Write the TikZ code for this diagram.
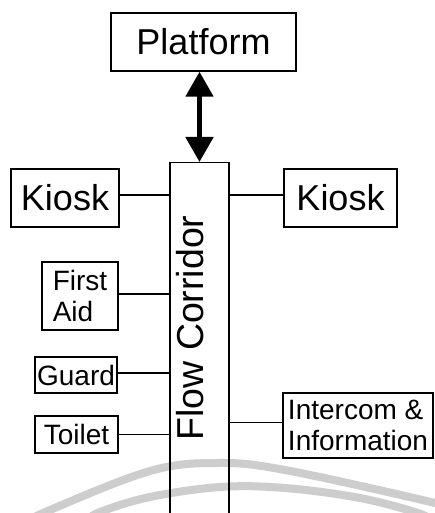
\documentclass[tikz,border=0pt]{standalone}
\usepackage{fontspec}
\setmainfont{Liberation Sans}
\usetikzlibrary{arrows.meta}
\definecolor{wm}{RGB}{205,205,205}
\begin{document}
\begin{tikzpicture}[x=1pt,y=-1pt,
  box/.style={draw=black,line width=1.4pt,inner sep=0pt,font=\fontsize{28}{31}\selectfont},
  big/.style={font=\fontsize{36}{40}\selectfont},
  link/.style={line width=1.2pt},
  mark arc/.style={draw=wm,line width=8pt}]
\fill[white] (0,0) rectangle (435,513);
\clip (0,0) rectangle (435,513);
% watermark arcs
\draw[mark arc] plot[smooth,tension=0.6] coordinates {(10,530) (50,510) (150,471) (217,463) (285,470) (435,503) (460,512)};
\draw[mark arc] plot[smooth,tension=0.6] coordinates {(85,522) (100,512) (150,497) (220,487) (285,488) (360,498) (418,513) (430,520)};
% nodes
\node[box,big,minimum width=185pt,minimum height=58pt] (plat) at (203.5,42) {Platform};
\node[draw=black,line width=1.4pt,minimum width=59pt,minimum height=380pt,anchor=north] (corr) at (199.5,162) {};
\node[font=\fontsize{37.5}{40}\selectfont,rotate=90,anchor=base] (corrlabel) at (203,328) {Flow Corridor};
\node[box,big,minimum width=108pt,minimum height=58pt] (kl) at (65,198) {Kiosk};
\node[box,big,minimum width=113pt,minimum height=58pt] (kr) at (340.5,198) {Kiosk};
\node[box,align=left,minimum width=76pt,minimum height=68pt] (aid) at (80,296) {First\\Aid};
\node[box,minimum width=82pt,minimum height=36pt] (guard) at (76,375) {Guard};
\node[box,minimum width=83pt,minimum height=37pt] (toilet) at (76.5,434.5) {Toilet};
\node[box,align=left,minimum width=150pt,minimum height=65pt] (info) at (358,425.5) {Intercom \&\\Information};
% connectors
\draw[line width=5pt,{Triangle[width=27pt,length=25pt]}-{Triangle[width=27pt,length=25pt]}] (corr.north |- plat.south) -- (corr.north);
\draw[link] ([yshift=3pt]kl.east) -- ([yshift=3pt]kl.east -| corr.west);
\draw[link] ([yshift=3pt]kr.west) -- ([yshift=3pt]kr.west -| corr.east);
\draw[link] ([yshift=2pt]aid.east) -- ([yshift=2pt]aid.east -| corr.west);
\draw[link] ([yshift=2pt]guard.east) -- ([yshift=2pt]guard.east -| corr.west);
\draw[link] (toilet.east) -- (toilet.east -| corr.west);
\draw[link] ([yshift=3pt]info.west) -- ([yshift=3pt]info.west -| corr.east);
\end{tikzpicture}
\end{document}
